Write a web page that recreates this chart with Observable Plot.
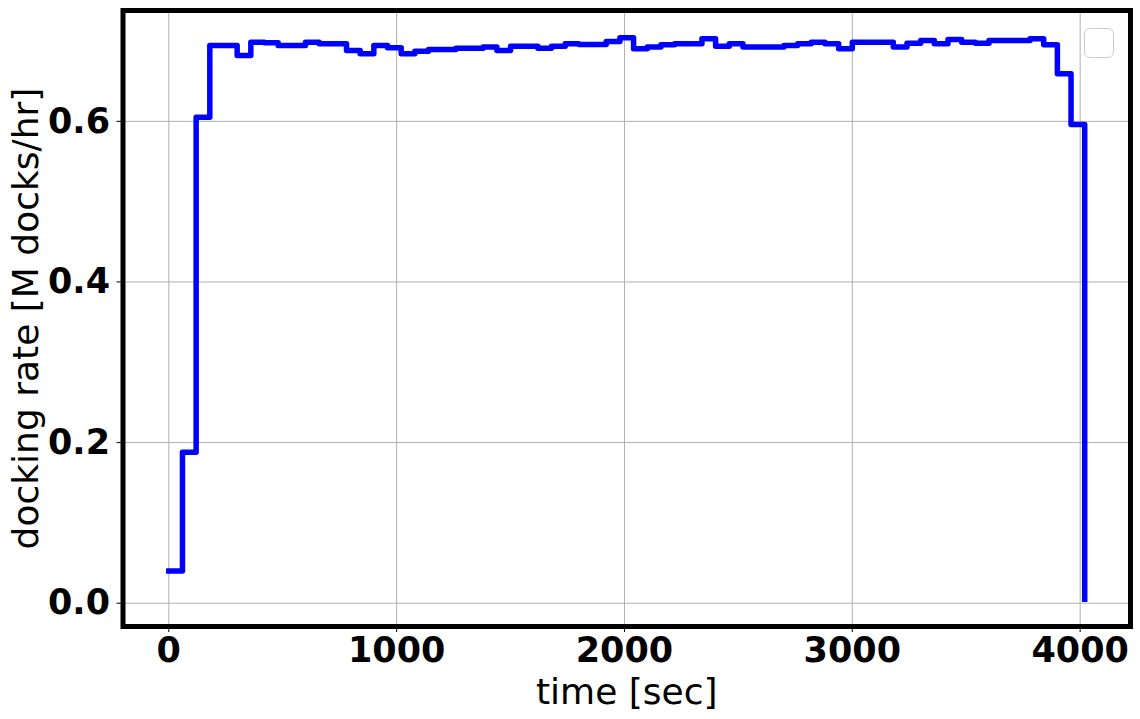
<!DOCTYPE html>
<html>
<head>
<meta charset="utf-8">
<script src="https://cdn.jsdelivr.net/npm/d3@7"></script>
<script src="https://cdn.jsdelivr.net/npm/@observablehq/plot@0.6"></script>
<style>
  html, body { margin: 0; padding: 0; background: #fff; }
  #wrap { position: relative; width: 1140px; height: 719px; }
  #legend { position: absolute; left: 1084px; top: 28px; width: 28px; height: 28px;
            border: 1px solid #cccccc; border-radius: 6px; background: rgba(255,255,255,0.8); }
</style>
</head>
<body>
<div id="wrap"></div>
<script>
// Time bins (seconds), 60 s apart
const times = d3.range(0, 4021, 60);
// Docking rate per bin [M docks/hr]
const rates = [
  0.040, 0.188, 0.605, 0.6945, 0.6945, 0.682, 0.6986, 0.6978, 0.6945, 0.6945,
  0.6986, 0.6966, 0.6966, 0.6882, 0.684, 0.6945, 0.6916, 0.684, 0.6873, 0.6895,
  0.6895, 0.6911, 0.6911, 0.6924, 0.6882, 0.6936, 0.6936, 0.6911, 0.6936, 0.6966,
  0.6957, 0.6957, 0.6994, 0.7040, 0.6904, 0.6924, 0.6953, 0.6966, 0.6966, 0.7028,
  0.6936, 0.6966, 0.6924, 0.6924, 0.6924, 0.6945, 0.6966, 0.6986, 0.6966, 0.6904,
  0.6986, 0.6986, 0.6986, 0.6924, 0.6973, 0.7007, 0.6966, 0.7019, 0.6986, 0.6973,
  0.7007, 0.7007, 0.7007, 0.7028, 0.6953, 0.6592, 0.5961, 0.005
];
const xTicks = [0, 1000, 2000, 3000, 4000];
const yTicks = [0.0, 0.2, 0.4, 0.6];
const xLabel = "time [sec]";
const yLabel = "docking rate [M docks/hr]";

const data = times.map((t, i) => ({t, rate: rates[i]}));

const chart = Plot.plot({
  width: 1140,
  height: 719,
  marginLeft: 122.5,
  marginRight: 10,
  marginTop: 10,
  marginBottom: 93,
  style: {fontFamily: "DejaVu Sans", fontSize: "35px", color: "black", background: "white"},
  x: {domain: [-201, 4221]},
  y: {domain: [-0.029, 0.738]},
  marks: [
    Plot.gridX(xTicks, {stroke: "#b0b0b0", strokeOpacity: 1, strokeWidth: 1}),
    Plot.gridY(yTicks, {stroke: "#b0b0b0", strokeOpacity: 1, strokeWidth: 1}),
    Plot.lineY(data, {x: "t", y: "rate", curve: "step-after", stroke: "#0000ff",
      strokeWidth: 5.5, strokeLinejoin: "round", strokeLinecap: "square"}),
    Plot.frame({stroke: "black", strokeWidth: 5}),
    Plot.axisX(xTicks, {tickSize: 6, tickPadding: 5, fontWeight: "bold", fontSize: 35,
      tickFormat: d => String(d), label: null}),
    Plot.axisY(yTicks, {tickSize: 6, tickPadding: 7, fontWeight: "bold", fontSize: 35,
      tickFormat: d => d.toFixed(1), label: null}),
    Plot.text([xLabel], {frameAnchor: "bottom", text: d => d, dy: 66, fontSize: 36,
      textAnchor: "middle", lineAnchor: "middle", fill: "black"}),
    Plot.text([yLabel], {frameAnchor: "left", text: d => d, dx: -97, rotate: -90, fontSize: 36,
      textAnchor: "middle", lineAnchor: "middle", fill: "black"})
  ]
});
const wrap = document.getElementById("wrap");
wrap.appendChild(chart);
const lg = document.createElement("div");
lg.id = "legend";
wrap.appendChild(lg);
</script>
</body>
</html>
